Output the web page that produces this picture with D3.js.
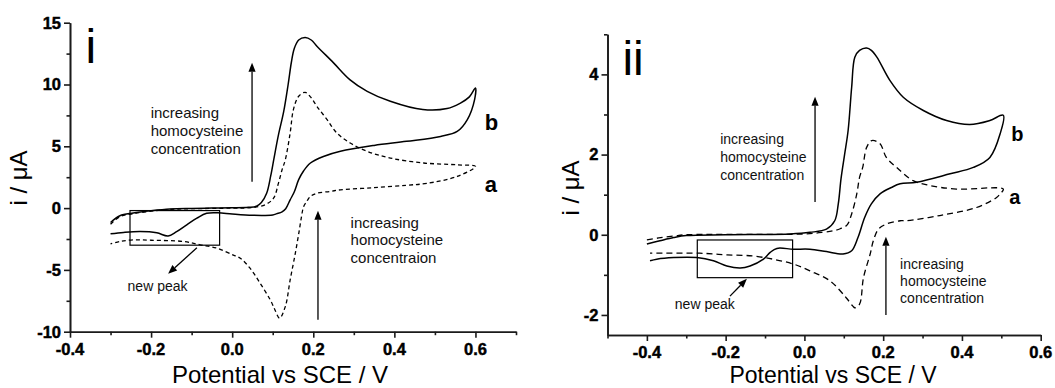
<!DOCTYPE html>
<html><head><meta charset="utf-8">
<script src="https://cdn.jsdelivr.net/npm/d3@7"></script>
<style>
body{margin:0;background:#fff;}
svg{display:block;font-family:"Liberation Sans",Arial,sans-serif;}
</style></head><body>
<svg id="c" width="1055" height="388"></svg>
<script>
// ---------------- DATA ----------------
// Panel i, curve b (solid) : full CV loop
const potIb = [-0.30,-0.277,-0.244,-0.20,-0.153,-0.10,-0.05,0.0,0.04,0.06,0.072,0.085,0.095,0.103,0.114,0.127,0.138,0.146,0.153,0.164,0.18,0.195,0.209,0.25,0.29,0.333,0.39,0.47,0.53,0.563,0.585,0.60,
  0.598,0.58,0.555,0.514,0.43,0.35,0.267,0.225,0.193,0.176,0.164,0.153,0.143,0.132,0.123,0.11,0.10,0.05,0.0,-0.035,-0.063,-0.087,-0.112,-0.137,-0.158,-0.186,-0.227,-0.268,-0.30];
const curIb = [-1.17,-0.62,-0.40,-0.22,-0.08,-0.03,0.0,0.02,0.06,0.15,0.45,1.2,2.6,4.0,5.9,7.8,10.0,11.8,12.9,13.6,13.8,13.6,13.1,11.75,10.4,9.45,8.64,7.97,8.05,8.5,9.0,9.72,
  8.8,7.16,6.2,5.8,5.4,5.07,4.6,4.18,3.65,3.0,2.3,1.3,0.67,-0.05,-0.3,-0.45,-0.55,-0.58,-0.48,-0.38,-0.42,-0.81,-1.35,-1.9,-2.25,-2.0,-1.9,-1.97,-2.08];
// Panel i, curve a (dashed)
const potIa = [-0.30,-0.277,-0.244,-0.20,-0.15,-0.10,0.0,0.05,0.081,0.102,0.114,0.123,0.131,0.143,0.151,0.164,0.18,0.193,0.209,0.234,0.258,0.291,0.333,0.39,0.472,0.555,0.60,
  0.555,0.48,0.43,0.349,0.267,0.242,0.209,0.193,0.184,0.176,0.171,0.165,0.156,0.143,0.131,0.117,0.105,0.094,0.069,0.044,0.02,0.003,-0.038,-0.079,-0.12,-0.20,-0.244,-0.277,-0.30];
const curIa = [-1.3,-0.7,-0.45,-0.25,-0.1,-0.05,0.0,0.05,0.27,0.8,2.0,3.1,3.9,6.08,7.97,9.05,9.37,9.0,8.23,7.16,6.08,5.27,4.59,4.05,3.65,3.5,3.37,
  2.56,2.0,1.85,1.65,1.48,1.35,1.2,0.94,0.54,0.1,-0.68,-1.9,-3.6,-5.81,-7.97,-8.9,-8.2,-7.43,-6.08,-4.86,-4.05,-3.8,-3.24,-2.97,-2.7,-2.6,-2.57,-2.7,-2.9];

// Panel ii, curve b (solid)
const potIIb = [-0.40,-0.367,-0.332,-0.30,-0.20,-0.036,0.014,0.056,0.077,0.086,0.093,0.102,0.111,0.12,0.128,0.14,0.158,0.17,0.184,0.217,0.251,0.302,0.361,0.42,0.471,0.505,
  0.497,0.471,0.429,0.37,0.285,0.243,0.221,0.192,0.17,0.153,0.136,0.12,0.098,0.056,0.014,-0.028,-0.07,-0.087,-0.104,-0.138,-0.163,-0.197,-0.231,-0.273,-0.332,-0.375,-0.392];
const curIIb = [-0.23,-0.15,-0.07,-0.02,0.0,0.02,0.06,0.14,0.35,0.77,1.4,2.0,2.6,3.68,4.43,4.6,4.66,4.6,4.43,3.85,3.43,3.1,2.85,2.75,2.85,2.98,
  2.52,1.93,1.68,1.52,1.31,1.27,1.18,1.02,0.77,0.43,-0.07,-0.4,-0.48,-0.42,-0.36,-0.36,-0.34,-0.44,-0.61,-0.78,-0.83,-0.78,-0.65,-0.57,-0.57,-0.61,-0.65];
// Panel ii, curve a (dashed)
const potIIa = [-0.40,-0.37,-0.33,-0.30,0.0,0.047,0.074,0.091,0.108,0.12,0.133,0.14,0.148,0.158,0.171,0.192,0.208,0.234,0.276,0.318,0.386,0.505,
  0.497,0.488,0.437,0.344,0.259,0.243,0.209,0.188,0.175,0.167,0.15,0.14,0.128,0.123,0.106,0.065,0.014,-0.028,-0.079,-0.13,-0.197,-0.266,-0.392];
const curIIa = [-0.13,-0.08,-0.03,0.0,0.02,0.06,0.1,0.15,0.24,0.52,1.02,1.43,1.68,2.18,2.35,2.27,1.93,1.68,1.35,1.23,1.14,1.14,
  1.02,0.93,0.68,0.48,0.35,0.35,0.27,0.14,-0.15,-0.48,-1.07,-1.73,-1.82,-1.78,-1.57,-1.15,-0.9,-0.73,-0.61,-0.53,-0.5,-0.46,-0.46];

// Tick values and labels
const xTicksI = [-0.4,-0.2,0.0,0.2,0.4,0.6];
const xTickLabelsI = ["-0.4","-0.2","0.0","0.2","0.4","0.6"];
const xMinorI = [-0.3,-0.1,0.1,0.3,0.5,0.7];
const yTicksI = [-10,-5,0,5,10,15];
const yTickLabelsI = ["-10","-5","0","5","10","15"];
const yMinorI = [-7.5,-2.5,2.5,7.5,12.5];

const xTicksII = [-0.4,-0.2,0.0,0.2,0.4,0.6];
const xTickLabelsII = ["-0.4","-0.2","0.0","0.2","0.4","0.6"];
const xMinorII = [-0.5,-0.3,-0.1,0.1,0.3,0.5];
const yTicksII = [-2,0,2,4];
const yTickLabelsII = ["-2","0","2","4"];
const yMinorII = [-1,1,3,5];

// Annotation texts
const xTitle = "Potential vs SCE / V";
const yTitle = "i / \u03bcA";
const upText = ["increasing","homocysteine","concentration"];
const lowTextI = ["increasing","homocysteine","concentraion"];
const lowTextII = ["increasing","homocysteine","concentration"];

// ---------------- DRAW ----------------
const svg = d3.select("#c");

function panel(cfg){
  const x = d3.scaleLinear().domain(cfg.xDom).range(cfg.xRange);
  const y = d3.scaleLinear().domain(cfg.yDom).range(cfg.yRange);
  const g = svg.append("g");
  const X0 = cfg.xRange[0], Y0 = cfg.yRange[0];

  // axes (lines via d3 axis, labels drawn as bold text from the same scales)
  const ax = g.append("g").attr("transform",`translate(0,${Y0})`)
    .call(d3.axisBottom(x).tickValues(cfg.xTicks).tickFormat("").tickSize(6).tickSizeOuter(0));
  const axm = g.append("g").attr("transform",`translate(0,${Y0})`)
    .call(d3.axisBottom(x).tickValues(cfg.xMinor).tickFormat("").tickSize(3.5).tickSizeOuter(0));
  const ay = g.append("g").attr("transform",`translate(${X0},0)`)
    .call(d3.axisLeft(y).tickValues(cfg.yTicks).tickFormat("").tickSize(6).tickSizeOuter(0));
  const aym = g.append("g").attr("transform",`translate(${X0},0)`)
    .call(d3.axisLeft(y).tickValues(cfg.yMinor).tickFormat("").tickSize(3.5).tickSizeOuter(0));
  [ax,axm,ay,aym].forEach(a=>{
    a.selectAll("path,line").attr("stroke","#1a1a1a").attr("stroke-width",1.6);
    a.selectAll("text").remove();
  });
  g.selectAll(null).data(cfg.xTicks).join("text")
    .attr("x",d=>x(d)).attr("y",Y0+23).attr("text-anchor","middle")
    .attr("font-size",16.5).attr("font-weight","bold").attr("fill","#000")
    .attr("stroke","#000").attr("stroke-width",0.45)
    .text((d,i)=>cfg.xLabels[i]);
  g.selectAll(null).data(cfg.yTicks).join("text")
    .attr("x",X0-9).attr("y",d=>y(d)+5.8).attr("text-anchor","end")
    .attr("font-size",16.5).attr("font-weight","bold").attr("fill","#000")
    .attr("stroke","#000").attr("stroke-width",0.45)
    .text((d,i)=>cfg.yLabels[i]);

  // titles
  g.append("text").attr("x",cfg.xTitlePos[0]).attr("y",cfg.xTitlePos[1]).attr("text-anchor","middle")
    .attr("font-size",cfg.xTitleSize).text(xTitle);
  g.append("text").attr("transform",`translate(${cfg.yTitlePos[0]},${cfg.yTitlePos[1]}) rotate(-90)`)
    .attr("text-anchor","middle").attr("font-size",24).text(yTitle);

  // curves
  const line = d3.line().x(d=>x(d[0])).y(d=>y(d[1])).curve(d3.curveCatmullRom.alpha(0.5));
  g.append("path").datum(cfg.aPot.map((p,i)=>[p,cfg.aCur[i]])).attr("d",line)
    .attr("fill","none").attr("stroke","#000").attr("stroke-width",1.3).attr("stroke-dasharray",cfg.dash);
  g.append("path").datum(cfg.bPot.map((p,i)=>[p,cfg.bCur[i]])).attr("d",line)
    .attr("fill","none").attr("stroke","#000").attr("stroke-width",1.5);

  // box
  const bx = cfg.box;
  g.append("rect").attr("x",x(bx[0])).attr("y",y(bx[3])).attr("width",x(bx[1])-x(bx[0])).attr("height",y(bx[2])-y(bx[3]))
    .attr("fill","none").attr("stroke","#000").attr("stroke-width",1.2);

  // arrows
  function arrow(x1,y1,x2,y2){
    const px1=x(x1),py1=y(y1),px2=x(x2),py2=y(y2);
    const ang=Math.atan2(py2-py1,px2-px1), L=9, W=3.6;
    const bxp=px2-L*Math.cos(ang), byp=py2-L*Math.sin(ang);
    g.append("line").attr("x1",px1).attr("y1",py1).attr("x2",bxp).attr("y2",byp).attr("stroke","#000").attr("stroke-width",1.3);
    const nx=-Math.sin(ang)*W, ny=Math.cos(ang)*W;
    g.append("path").attr("d",`M${px2},${py2}L${bxp+nx},${byp+ny}L${bxp-nx},${byp-ny}Z`).attr("fill","#000");
  }
  cfg.arrows.forEach(a=>arrow(...a));

  // text blocks
  function block(lines,pos,size,lh){
    const t=g.append("text").attr("font-size",size).attr("fill","#111");
    lines.forEach((s,i)=>t.append("tspan").attr("x",x(pos[0])).attr("y",y(pos[1])+i*lh).text(s));
  }
  block(upText,cfg.upTextPos,cfg.annSize,cfg.lh1);
  block(cfg.lowText,cfg.lowTextPos,cfg.annSize,cfg.lh2);
  block(["new peak"],cfg.npPos,cfg.npSize,0);

  // labels a, b
  g.append("text").attr("x",x(cfg.bLab[0])).attr("y",y(cfg.bLab[1])).attr("font-size",cfg.abSize).attr("font-weight","bold").text("b");
  g.append("text").attr("x",x(cfg.aLab[0])).attr("y",y(cfg.aLab[1])).attr("font-size",cfg.abSize).attr("font-weight","bold").text("a");
  // panel label
  g.append("text").attr("x",x(cfg.pLab[0])).attr("y",y(cfg.pLab[1])).attr("font-size",48).text(cfg.pName);
}

panel({
  xDom:[-0.4,0.7], xRange:[70,516], yDom:[-10,15], yRange:[331.7,22.7],
  xTicks:xTicksI, xLabels:xTickLabelsI, xMinor:xMinorI, yTicks:yTicksI, yLabels:yTickLabelsI, yMinor:yMinorI,
  xTitlePos:[280,383], xTitleSize:24, yTitlePos:[27,178],
  aPot:potIa, aCur:curIa, bPot:potIb, bCur:curIb, dash:"4,3",
  box:[-0.252,-0.031,-3.0,-0.2],
  arrows:[[0.049,2.13,0.049,11.75],[0.2116,-9.04,0.2116,-0.22],[-0.087,-3.21,-0.158,-5.31]],
  upTextPos:[-0.201,7.28], lowText:lowTextI, lowTextPos:[0.292,-1.6], annSize:15, lh1:18, lh2:17.5,
  npPos:[-0.258,-6.67], npSize:14,
  bLab:[0.623,6.33], aLab:[0.623,1.34], abSize:22,
  pLab:[-0.362,11.75], pName:"i"
});

panel({
  xDom:[-0.5,0.6], xRange:[607.5,1040.7], yDom:[-2.5,5], yRange:[335,34.3],
  xTicks:xTicksII, xLabels:xTickLabelsII, xMinor:xMinorII, yTicks:yTicksII, yLabels:yTickLabelsII, yMinor:yMinorII,
  xTitlePos:[833,383], xTitleSize:23, yTitlePos:[579,188],
  aPot:potIIa, aCur:curIIa, bPot:potIIb, bCur:curIIb, dash:"6,4",
  box:[-0.272,-0.03,-1.07,-0.13],
  arrows:[[0.027,0.82,0.027,3.44],[0.207,-2.0,0.207,-0.05],[-0.189,-1.53,-0.146,-1.10]],
  upTextPos:[-0.214,2.26], lowText:lowTextII, lowTextPos:[0.243,-0.85], annSize:14, lh1:18, lh2:17,
  npPos:[-0.329,-1.86], npSize:14,
  bLab:[0.525,2.33], aLab:[0.52,0.77], abSize:20,
  pLab:[-0.462,3.98], pName:"ii"
});
</script>
</body></html>
